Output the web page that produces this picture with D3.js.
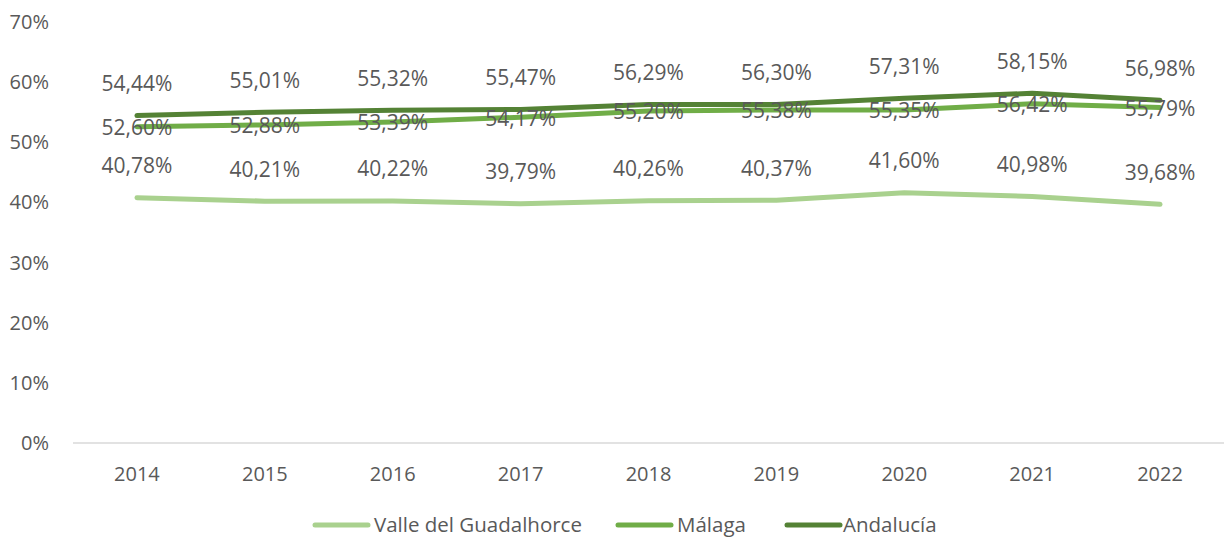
<!DOCTYPE html>
<html><head><meta charset="utf-8">
<script src="https://cdn.jsdelivr.net/npm/d3@7"></script>
<style>body{margin:0;background:#fff}svg{display:block}text{font-family:"Open Sans",sans-serif;fill:#595959}</style>
</head><body>
<script>
const years = ["2014","2015","2016","2017","2018","2019","2020","2021","2022"];
const valle = [40.78,40.21,40.22,39.79,40.26,40.37,41.60,40.98,39.68];
const malaga = [52.60,52.88,53.39,54.17,55.20,55.38,55.35,56.42,55.79];
const andalucia = [54.44,55.01,55.32,55.47,56.29,56.30,57.31,58.15,56.98];
const yTicks = [0,10,20,30,40,50,60,70];
const seriesNames = ["Valle del Guadalhorce","Málaga","Andalucía"];
const colors = ["#A9D18E","#70AD47","#548235"];
const labelPos = ["above","center","above"];

const W=1225,H=543;
const svg=d3.select("body").append("svg").attr("width",W).attr("height",H);
const x=d3.scaleBand().domain(years).range([73,1224]);
const y=d3.scaleLinear().domain([0,70]).range([443,22]);
const fmt=v=>v.toFixed(2).replace(".",",")+"%";

svg.append("line").attr("x1",73).attr("x2",1224).attr("y1",y(0)).attr("y2",y(0)).attr("stroke","#d9d9d9").attr("stroke-width",1.3);

svg.selectAll(".yt").data(yTicks).join("text").attr("x",49).attr("y",d=>y(d)).attr("dy","0.35em")
  .attr("text-anchor","end").attr("font-size",20).text(d=>d+"%");
svg.selectAll(".xt").data(years).join("text").attr("x",d=>x(d)+x.bandwidth()/2).attr("y",474).attr("dy","0.35em")
  .attr("text-anchor","middle").attr("font-size",20).text(d=>d);

const data=[valle,malaga,andalucia];
const line=d3.line().x((d,i)=>x(years[i])+x.bandwidth()/2).y(d=>y(d));
data.forEach((s,k)=>{
  svg.append("path").attr("d",line(s)).attr("fill","none").attr("stroke",colors[k]).attr("stroke-width",5).attr("stroke-linecap","round").attr("stroke-linejoin","round");
});
data.forEach((s,k)=>{
  svg.selectAll(".l"+k).data(s).join("text").attr("x",(d,i)=>x(years[i])+x.bandwidth()/2)
    .attr("y",d=>y(d)+(labelPos[k]==="above"?-32:1)).attr("dy","0.35em").attr("text-anchor","middle").attr("font-size",21).text(fmt);
});

const leg=[{x:313,tx:374},{x:616,tx:677},{x:785,tx:843}];
seriesNames.forEach((n,k)=>{
  svg.append("line").attr("x1",leg[k].x+2).attr("x2",leg[k].x+55).attr("y1",525).attr("y2",525).attr("stroke",colors[k]).attr("stroke-width",5).attr("stroke-linecap","round");
  svg.append("text").attr("x",leg[k].tx).attr("y",525).attr("dy","0.35em").attr("font-size",20.5).text(n);
});
</script>
</body></html>
